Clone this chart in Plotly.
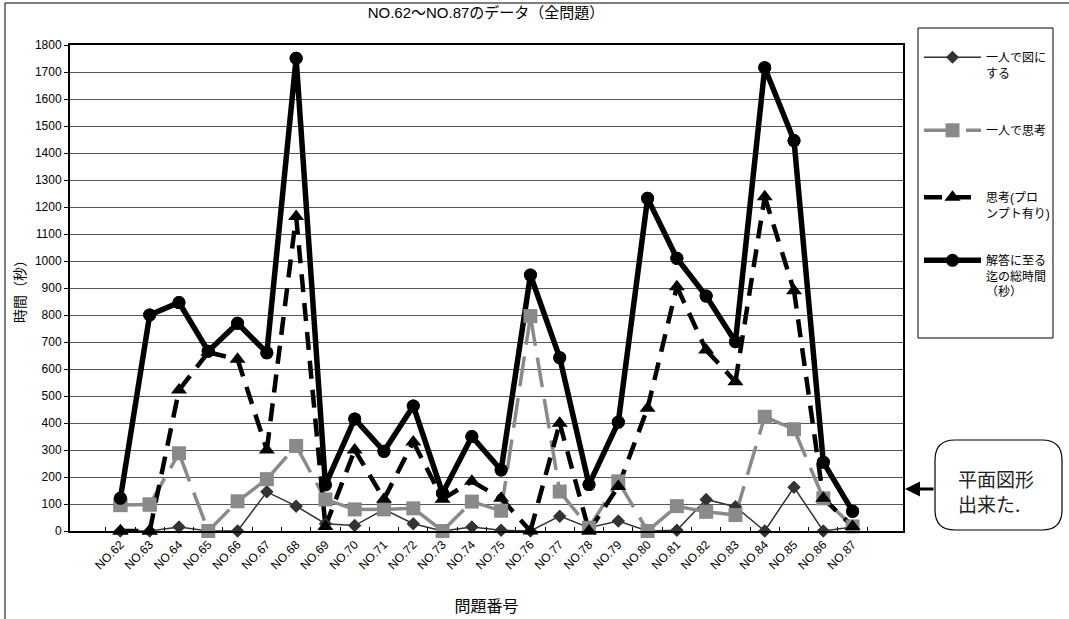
import plotly.graph_objects as go

# Problem numbers on the x axis
problems = [f"NO.{n}" for n in range(62, 88)]

# Seconds spent per problem
solo_drawing = [0, 0, 15, 0, 0, 145, 92, 27, 20, 80, 27, 0, 15, 3,
                0, 55, 12, 37, 0, 3, 117, 90, 0, 162, 0, 15]
solo_thinking = [96, 98, 288, 0, 110, 192, 315, 117, 80, 80, 84, 0, 109, 75,
                 796, 146, 12, 184, 0, 92, 71, 59, 423, 377, 121, 17]
prompted_thinking = [0, 0, 522, 662, 636, 300, 1165, 17, 300, 118, 330, 118, 184, 121,
                     0, 399, 0, 165, 455, 905, 670, 553, 1238, 890, 121, 17]
total_time = [121, 800, 846, 666, 769, 660, 1751, 171, 415, 295, 463, 140, 350, 226,
              948, 642, 172, 403, 1232, 1010, 870, 701, 1716, 1446, 255, 73]

series_names = ["一人で図に<br>する", "一人で思考", "思考(プロ<br>ンプト有り)", "解答に至る<br>迄の総時間<br>（秒）"]

W, H = 1069, 619
L, R, T, B = 70, 166, 45, 88
PW, PH = W - L - R, H - T - B


def px(x):
    return (x - L) / PW


def py(y):
    return (H - B - y) / PH


FONT = "Arial, 'Liberation Sans', 'Noto Sans CJK JP', sans-serif"

# per-series styling; dashed series restart their dash pattern on every segment
styles = [
    dict(values=solo_drawing, line=dict(color="#333333", width=1.5), per_segment=False,
         marker=dict(symbol="diamond", size=10, color="#333333")),
    dict(values=solo_thinking, line=dict(color="#8a8a8a", width=3.5, dash="30px,12px"),
         per_segment=True, marker=dict(symbol="square", size=14, color="#8a8a8a")),
    dict(values=prompted_thinking, line=dict(color="#000000", width=4.5, dash="18px,11px"),
         per_segment=True, marker=dict(symbol="triangle-up", size=14, color="#000000")),
    dict(values=total_time, line=dict(color="#000000", width=5.5), per_segment=False,
         marker=dict(symbol="circle", size=13, color="#000000")),
]

legend_ids = ["legend", "legend2", "legend3", "legend4"]
legend_tops = [43, 116, 183, 246]

fig = go.Figure()

# Lines (each series with its own legend entry)
for name, st, lid in zip(series_names, styles, legend_ids):
    vals = st["values"]
    if not st["per_segment"]:
        fig.add_trace(go.Scatter(
            x=problems, y=vals, name=name, mode="lines+markers",
            line=st["line"], marker=st["marker"], legend=lid, cliponaxis=False,
        ))
        continue
    for i in range(len(problems) - 1):
        first = i == 0
        fig.add_trace(go.Scatter(
            x=problems[i:i + 2], y=vals[i:i + 2], name=name,
            mode="lines+markers" if first else "lines",
            line=st["line"], marker=st["marker"], legend=lid,
            showlegend=first, hoverinfo="skip" if not first else None,
            cliponaxis=False,
        ))

# Markers drawn again above every line
for st in styles:
    fig.add_trace(go.Scatter(
        x=problems, y=st["values"], mode="markers", marker=st["marker"],
        showlegend=False, cliponaxis=False,
    ))

shapes = [
    # chart area border (top and left edges)
    dict(type="line", xref="paper", yref="paper", x0=px(5), x1=px(1069), y0=py(3), y1=py(3),
         line=dict(color="#000000", width=1)),
    dict(type="line", xref="paper", yref="paper", x0=px(5), x1=px(5), y0=py(3), y1=py(619),
         line=dict(color="#000000", width=1)),
    # legend frame
    dict(type="rect", xref="paper", yref="paper", x0=px(918), x1=px(1053), y0=py(28), y1=py(338),
         line=dict(color="#000000", width=1)),
]

# rounded callout box
bx0, bx1, by0, by1, rr = 935, 1062, 440, 530, 20
path = (f"M{px(bx0 + rr)},{py(by0)} L{px(bx1 - rr)},{py(by0)} "
        f"Q{px(bx1)},{py(by0)} {px(bx1)},{py(by0 + rr)} "
        f"L{px(bx1)},{py(by1 - rr)} Q{px(bx1)},{py(by1)} {px(bx1 - rr)},{py(by1)} "
        f"L{px(bx0 + rr)},{py(by1)} Q{px(bx0)},{py(by1)} {px(bx0)},{py(by1 - rr)} "
        f"L{px(bx0)},{py(by0 + rr)} Q{px(bx0)},{py(by0)} {px(bx0 + rr)},{py(by0)} Z")
shapes.append(dict(type="path", xref="paper", yref="paper", path=path,
                   line=dict(color="#000000", width=1.2), fillcolor="white"))

annotations = [
    dict(xref="paper", yref="paper", x=px(996), y=py(491), text="平面図形<br>出来た.",
         showarrow=False, align="left", xanchor="center", yanchor="middle",
         font=dict(family="'Noto Sans CJK JP', sans-serif", size=19, color="#222222")),
    dict(xref="paper", yref="paper", x=px(905), y=py(489), ax=30, ay=0,
         axref="pixel", ayref="pixel", text="", showarrow=True,
         arrowhead=2, arrowsize=1, arrowwidth=3, arrowcolor="#000000"),
]

legend_common = dict(
    xanchor="left", yanchor="top", borderwidth=0, bgcolor="rgba(0,0,0,0)",
    font=dict(size=12), valign="top", itemwidth=57,
)

layout_legends = {
    lid: dict(x=px(919), y=py(top), **legend_common)
    for lid, top in zip(legend_ids, legend_tops)
}

fig.update_layout(
    width=W, height=H,
    margin=dict(l=L, r=R, t=T, b=B, autoexpand=False),
    paper_bgcolor="white", plot_bgcolor="white",
    font=dict(family=FONT, size=12, color="#000000"),
    title=dict(text="NO.62～NO.87のデータ（全問題）", xref="paper", x=px(486), xanchor="center",
               yref="container", y=1 - 13 / H, yanchor="middle", font=dict(size=15)),
    xaxis=dict(
        type="category", tickangle=-45, tickfont=dict(size=12),
        showline=True, linecolor="#000000", linewidth=2, mirror=True,
        ticks="inside", ticklen=4, tickcolor="#000000", tickson="boundaries",
        showgrid=False, zeroline=False,
        title=dict(text="問題番号", font=dict(size=16), standoff=30),
    ),
    yaxis=dict(
        range=[0, 1800], dtick=100, tickfont=dict(size=12),
        showline=True, linecolor="#000000", linewidth=2, mirror=True,
        ticks="outside", ticklen=4, tickcolor="#000000",
        showgrid=True, gridcolor="#555555", gridwidth=1, zeroline=False,
        title=dict(text="時間（秒）", font=dict(size=14), standoff=6),
    ),
    shapes=shapes,
    annotations=annotations,
    showlegend=True,
    **layout_legends,
)

fig.write_html("out.html")
